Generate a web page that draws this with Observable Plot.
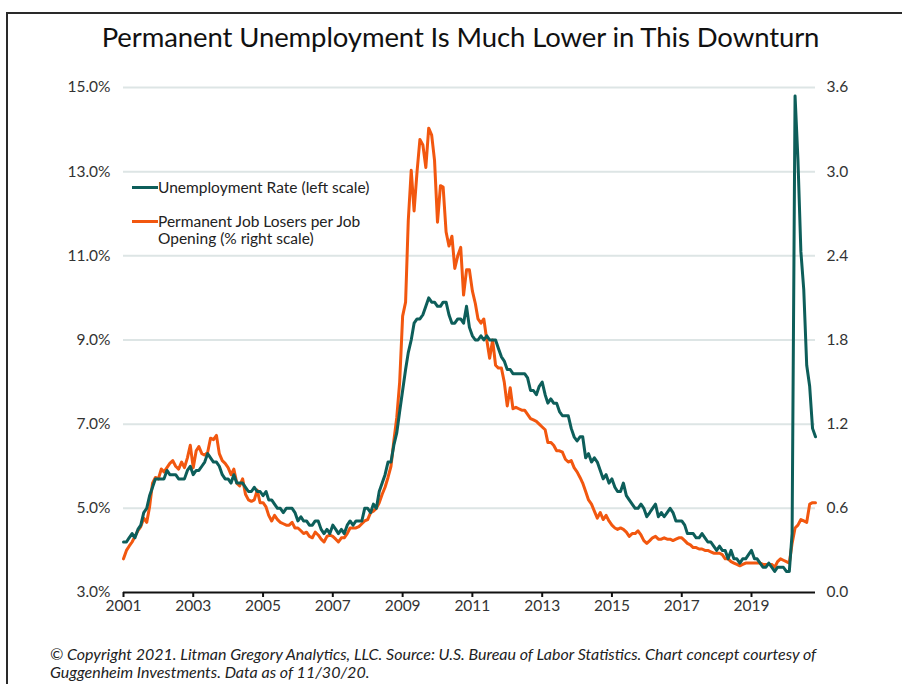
<!DOCTYPE html>
<html>
<head>
<meta charset="utf-8">
<script src="https://cdn.jsdelivr.net/npm/d3@7"></script>
<script src="https://cdn.jsdelivr.net/npm/@observablehq/plot@0.6"></script>
<style>
  html, body { margin: 0; padding: 0; background: #fff; overflow: hidden; }
  body { width: 902px; height: 684px; position: relative; font-family: Lato, "Noto Sans", sans-serif; color: #222; }
  #frame { position: absolute; left: 6px; top: 12px; width: 1200px; height: 900px; border-top: 2px solid #2a2a2a; border-left: 2px solid #2a2a2a; }
  #title { position: absolute; left: 0; width: 921px; top: 20px; text-align: center; font-size: 27.5px; color: #111; letter-spacing: -0.1px; }
  #chart { position: absolute; left: 0; top: 62px; }
  .legend { position: absolute; left: 132px; font-size: 15.5px; color: #222; line-height: 17px; }
  .legend .swatch { position: absolute; left: 0; width: 26px; height: 3px; }
  .legend .text { position: absolute; left: 26px; white-space: nowrap; }
  #footer { position: absolute; left: 50px; top: 645px; font-size: 16px; font-style: italic; color: #222; line-height: 18px; white-space: nowrap; }
</style>
</head>
<body>
<div id="frame"></div>
<div id="title">Permanent Unemployment Is Much Lower in This Downturn</div>
<div id="chart"></div>
<div class="legend" style="top:179px">
  <div class="swatch" style="top:7px;background:#0d5e5a"></div>
  <div class="text">Unemployment Rate (left scale)</div>
</div>
<div class="legend" style="top:213px">
  <div class="swatch" style="top:7px;background:#f2570f"></div>
  <div class="text">Permanent Job Losers per Job<br>Opening (% right scale)</div>
</div>
<div id="footer">© Copyright 2021. Litman Gregory Analytics, LLC. Source: U.S. Bureau of Labor Statistics. Chart concept courtesy of<br>Guggenheim Investments. Data as of 11/30/20.</div>
<script>
// Monthly series, January 2001 through November 2020.
const firstMonth = [2001, 0];

// Civilian unemployment rate, % (left scale)
const unemploymentRate = [
  4.2, 4.2, 4.3, 4.4, 4.3, 4.5, 4.6, 4.9, 5.0, 5.3, 5.5, 5.7,   // 2001
  5.7, 5.7, 5.7, 5.9, 5.8, 5.8, 5.8, 5.7, 5.7, 5.7, 5.9, 6.0,   // 2002
  5.8, 5.9, 5.9, 6.0, 6.1, 6.3, 6.2, 6.1, 6.1, 6.0, 5.8, 5.7,   // 2003
  5.7, 5.6, 5.8, 5.6, 5.6, 5.6, 5.5, 5.4, 5.4, 5.5, 5.4, 5.4,   // 2004
  5.3, 5.4, 5.2, 5.2, 5.1, 5.0, 5.0, 4.9, 5.0, 5.0, 5.0, 4.9,   // 2005
  4.7, 4.8, 4.7, 4.7, 4.6, 4.6, 4.7, 4.7, 4.5, 4.4, 4.5, 4.4,   // 2006
  4.6, 4.5, 4.4, 4.5, 4.4, 4.6, 4.7, 4.6, 4.7, 4.7, 4.7, 5.0,   // 2007
  5.0, 4.9, 5.1, 5.0, 5.4, 5.6, 5.8, 6.1, 6.1, 6.5, 6.8, 7.3,   // 2008
  7.8, 8.3, 8.7, 9.0, 9.4, 9.5, 9.5, 9.6, 9.8, 10.0, 9.9, 9.9,  // 2009
  9.8, 9.8, 9.9, 9.9, 9.6, 9.4, 9.4, 9.5, 9.5, 9.4, 9.8, 9.3,   // 2010
  9.1, 9.0, 9.0, 9.1, 9.0, 9.1, 9.0, 9.0, 9.0, 8.8, 8.6, 8.5,   // 2011
  8.3, 8.3, 8.2, 8.2, 8.2, 8.2, 8.2, 8.1, 7.8, 7.8, 7.7, 7.9,   // 2012
  8.0, 7.7, 7.5, 7.6, 7.5, 7.5, 7.3, 7.2, 7.2, 7.2, 6.9, 6.7,   // 2013
  6.6, 6.7, 6.7, 6.2, 6.3, 6.1, 6.2, 6.1, 5.9, 5.7, 5.8, 5.6,   // 2014
  5.7, 5.5, 5.4, 5.4, 5.6, 5.3, 5.2, 5.1, 5.0, 5.0, 5.1, 5.0,   // 2015
  4.8, 4.9, 5.0, 5.1, 4.8, 4.9, 4.8, 4.9, 5.0, 4.9, 4.7, 4.7,   // 2016
  4.7, 4.6, 4.4, 4.4, 4.4, 4.3, 4.3, 4.4, 4.3, 4.2, 4.2, 4.1,   // 2017
  4.0, 4.1, 4.0, 4.0, 3.8, 4.0, 3.8, 3.8, 3.7, 3.8, 3.8, 3.9,   // 2018
  4.0, 3.8, 3.8, 3.7, 3.6, 3.6, 3.7, 3.6, 3.5, 3.6, 3.6, 3.6,   // 2019
  3.5, 3.5, 4.4, 14.8, 13.3, 11.1, 10.2, 8.4, 7.9, 6.9, 6.7     // 2020
];

// Permanent job losers per job opening (right scale)
const permanentLosersPerOpening = [
  0.24, 0.30, 0.33, 0.36, 0.40, 0.44, 0.47, 0.53, 0.50, 0.61, 0.78, 0.82,  // 2001
  0.81, 0.88, 0.86, 0.89, 0.92, 0.94, 0.90, 0.88, 0.93, 0.89, 0.96, 1.05,  // 2002
  0.89, 1.01, 1.04, 0.99, 0.98, 1.00, 1.10, 1.09, 1.12, 0.99, 0.94, 0.92,  // 2003
  0.89, 0.84, 0.88, 0.78, 0.76, 0.81, 0.70, 0.66, 0.65, 0.66, 0.73, 0.64,  // 2004
  0.64, 0.61, 0.55, 0.51, 0.55, 0.52, 0.50, 0.49, 0.48, 0.48, 0.50, 0.46,  // 2005
  0.46, 0.44, 0.42, 0.43, 0.40, 0.39, 0.43, 0.41, 0.38, 0.36, 0.40, 0.41,  // 2006
  0.40, 0.38, 0.36, 0.39, 0.39, 0.42, 0.46, 0.46, 0.46, 0.47, 0.49, 0.51,  // 2007
  0.52, 0.57, 0.58, 0.60, 0.64, 0.70, 0.75, 0.82, 0.90, 1.08, 1.25, 1.50,  // 2008
  1.97, 2.07, 2.65, 3.01, 2.72, 3.00, 3.23, 3.19, 3.03, 3.31, 3.26, 3.08,  // 2009
  2.64, 2.90, 2.89, 2.57, 2.47, 2.54, 2.31, 2.40, 2.46, 2.12, 2.30, 2.30,  // 2010
  2.15, 2.06, 1.95, 1.92, 1.95, 1.80, 1.67, 1.80, 1.62, 1.60, 1.60, 1.50,  // 2011
  1.33, 1.46, 1.31, 1.32, 1.31, 1.30, 1.30, 1.27, 1.24, 1.23, 1.22, 1.20,  // 2012
  1.18, 1.16, 1.07, 1.07, 1.05, 1.01, 1.01, 1.00, 0.95, 0.93, 0.94, 0.89,  // 2013
  0.86, 0.82, 0.78, 0.72, 0.66, 0.63, 0.58, 0.53, 0.57, 0.52, 0.55, 0.51,  // 2014
  0.48, 0.46, 0.45, 0.46, 0.45, 0.43, 0.40, 0.42, 0.42, 0.44, 0.41, 0.37,  // 2015
  0.35, 0.37, 0.39, 0.40, 0.38, 0.38, 0.39, 0.38, 0.38, 0.37, 0.38, 0.39,  // 2016
  0.39, 0.37, 0.35, 0.34, 0.32, 0.32, 0.31, 0.31, 0.30, 0.30, 0.29, 0.28,  // 2017
  0.28, 0.28, 0.27, 0.24, 0.24, 0.22, 0.21, 0.20, 0.19, 0.20, 0.21, 0.21,  // 2018
  0.21, 0.21, 0.21, 0.21, 0.20, 0.20, 0.20, 0.20, 0.18, 0.22, 0.24, 0.23,  // 2019
  0.22, 0.21, 0.35, 0.46, 0.48, 0.52, 0.51, 0.50, 0.63, 0.64, 0.64         // 2020
];

// Axis ticks: left scale in %, right scale labels follow from the same positions
const leftTicks = [3, 5, 7, 9, 11, 13, 15];
const yearTicks = [2001, 2003, 2005, 2007, 2009, 2011, 2013, 2015, 2017, 2019];

const rightPerLeft = 0.3;             // 3.6 on the right lines up with 15% on the left
const toLeftUnits = (r) => 3 + r / rightPerLeft;

const rows = unemploymentRate.map((u, i) => ({
  date: new Date(Date.UTC(firstMonth[0], firstMonth[1] + i, 1)),
  unemployment: u,
  permanent: permanentLosersPerOpening[i]
}));

const teal = "#0d5e5a";
const orange = "#f2570f";

const chart = Plot.plot({
  width: 902,
  height: 560,
  marginTop: 25,
  marginBottom: 30,
  marginLeft: 123,
  marginRight: 87,
  style: { fontFamily: "Lato, 'Noto Sans', sans-serif", fontSize: "15.5px", color: "#333", background: "transparent" },
  x: { type: "utc", domain: [rows[0].date, rows[rows.length - 1].date] },
  y: { domain: [3, 15] },
  marks: [
    Plot.gridY(leftTicks.filter(t => t > 3), { stroke: "#dde5e5", strokeOpacity: 1, strokeWidth: 2 }),
    Plot.axisY({ ticks: leftTicks, tickSize: 0, tickPadding: 13, tickFormat: d => d.toFixed(1) + "%", label: null }),
    Plot.axisY({ anchor: "right", ticks: leftTicks, tickSize: 0, tickPadding: 11, tickFormat: d => ((d - 3) * rightPerLeft).toFixed(1), label: null }),
    Plot.axisX({
      ticks: yearTicks.map(y => new Date(Date.UTC(y, 0, 1))),
      tickFormat: d3.utcFormat("%Y"),
      tickSize: 5, tickPadding: 2, strokeWidth: 2, stroke: "#111", label: null
    }),
    Plot.ruleY([3], { stroke: "#111", strokeWidth: 2 }),
    Plot.lineY(rows, { x: "date", y: d => toLeftUnits(d.permanent), stroke: orange, strokeWidth: 3 }),
    Plot.lineY(rows, { x: "date", y: "unemployment", stroke: teal, strokeWidth: 3 })
  ]
});
document.getElementById("chart").appendChild(chart);
</script>
</body>
</html>
